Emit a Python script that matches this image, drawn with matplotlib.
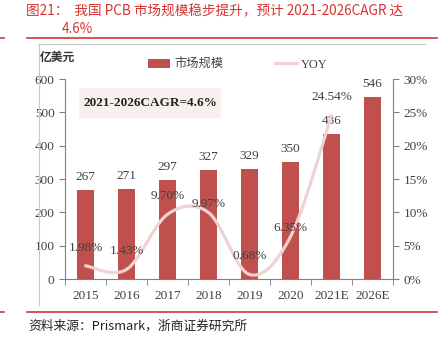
import matplotlib
matplotlib.use("Agg")
import matplotlib.pyplot as plt
import numpy as np
from matplotlib.lines import Line2D
from matplotlib.patches import Patch, Rectangle

categories = ["2015", "2016", "2017", "2018", "2019", "2020", "2021E", "2026E"]
market_size = [267, 271, 297, 327, 329, 350, 436, 546]
yoy = [1.98, 1.43, 9.70, 9.97, 0.68, 6.35, 24.54]
yoy_labels = ["1.98%", "1.43%", "9.70%", "9.97%", "0.68%", "6.35%", "24.54%"]
left_ticks = [0, 100, 200, 300, 400, 500, 600]
right_ticks = [0, 5, 10, 15, 20, 25, 30]

CJK = ["Noto Sans CJK SC", "DejaVu Sans"]
SERIF = ["Liberation Serif", "DejaVu Serif"]
BAR = "#C0504D"
LINE = "#F0D2D1"
TXT = "#404040"
AX = "#808080"
RED = "#D7332F"

W, H = 440, 337
fig = plt.figure(figsize=(W / 100, H / 100), dpi=100)

def fx(px):
    return px / W

def fy(py):
    return 1 - py / H

# header / footer decorations
fig.text(fx(26), fy(11), "图21：  我国 PCB 市场规模稳步提升，预计 2021-2026CAGR 达",
         family=CJK, fontsize=9.8, color=RED, va="center", ha="left")
fig.text(fx(62), fy(29), "4.6%", family=CJK, fontsize=9.8, color=RED, va="center", ha="left")
fig.add_artist(Line2D([fx(27), fx(437)], [fy(38), fy(38)], color=RED, lw=1.2))
fig.add_artist(Line2D([fx(0), fx(4)], [fy(38), fy(38)], color=RED, lw=1.2))
fig.add_artist(Line2D([fx(27), fx(437)], [fy(312), fy(312)], color=RED, lw=1.2))
fig.add_artist(Line2D([fx(0), fx(4)], [fy(312), fy(312)], color=RED, lw=1.2))
fig.add_artist(Line2D([fx(38), fx(425)], [fy(44), fy(44)], color="#C8C8C8", lw=0.8))
fig.add_artist(Line2D([fx(38.5), fx(38.5)], [fy(44), fy(305)], color="#C8C8C8", lw=0.8))
fig.text(fx(28), fy(326), "资料来源：Prismark，浙商证券研究所", family=CJK, fontsize=9.2,
         color="#222222", va="center", ha="left")
fig.text(fx(40), fy(57), "亿美元", family=CJK, fontsize=8.5, fontweight="bold",
         color="#333333", va="center", ha="left")

ax = fig.add_axes([fx(65), fy(279), fx(393) - fx(65), fy(79) - fy(279)])
ax2 = ax.twinx()
ax.set_zorder(1)
ax2.set_zorder(2)
ax2.patch.set_visible(False)

x = np.arange(len(categories))
bars = ax.bar(x, market_size, width=0.4, color=BAR, zorder=2)
for xi, v in zip(x, market_size):
    ax.annotate(str(v), (xi, v), xytext=(0, 5), textcoords="offset points",
                ha="center", va="bottom", family=SERIF, fontsize=9.5, color=TXT)

ax.set_xlim(-0.5, len(categories) - 0.5)
ax.set_ylim(0, 600)
ax.set_yticks(left_ticks)
ax.set_xticks(x)
ax.set_xticklabels(categories)
ax.set_xticks(np.arange(-0.5, len(categories), 1), minor=True)
ax.tick_params(axis="x", which="major", length=0, pad=8)
ax.tick_params(axis="x", which="minor", length=4, color=AX)
ax.tick_params(axis="y", length=4, color=AX)
for lab in ax.get_xticklabels() + ax.get_yticklabels():
    lab.set_family(SERIF)
    lab.set_fontsize(9.5)
    lab.set_color(TXT)
for s in ["top", "right"]:
    ax.spines[s].set_visible(False)
for s in ["left", "bottom"]:
    ax.spines[s].set_color(AX)

# smooth YOY line (Excel-style bezier smoothing through the data points)
xs = np.arange(len(yoy), dtype=float)
ys = np.array(yoy)
cx, cy = [], []
t = np.linspace(0, 1, 30)
for i in range(len(ys) - 1):
    p0 = np.array([xs[i], ys[i]])
    p3 = np.array([xs[i + 1], ys[i + 1]])
    pm = np.array([xs[max(i - 1, 0)], ys[max(i - 1, 0)]])
    pp = np.array([xs[min(i + 2, len(ys) - 1)], ys[min(i + 2, len(ys) - 1)]])
    c1 = p0 + (p3 - pm) / 6
    c2 = p3 - (pp - p0) / 6
    for tt in t:
        pt = (1 - tt) ** 3 * p0 + 3 * (1 - tt) ** 2 * tt * c1 + 3 * (1 - tt) * tt ** 2 * c2 + tt ** 3 * p3
        cx.append(pt[0]); cy.append(pt[1])
ax2.plot(cx, np.array(cy) / 100, color=LINE, lw=2.3, solid_capstyle="round", zorder=3)
offsets = [13, 13, 13, 6, 13, 6, 13]
for xi, v, lab, off in zip(xs, yoy, yoy_labels, offsets):
    ax2.annotate(lab, (xi, v / 100), xytext=(0, off), textcoords="offset points",
                 ha="center", va="center", family=SERIF, fontsize=9.5, color=TXT, zorder=5)

ax2.set_ylim(0, 0.30)
ax2.set_yticks([v / 100 for v in right_ticks])
ax2.set_yticklabels([f"{v}%" for v in right_ticks])
ax2.tick_params(axis="y", length=4, color=AX)
for lab in ax2.get_yticklabels():
    lab.set_family(SERIF)
    lab.set_fontsize(9.5)
    lab.set_color(TXT)
for s in ["top", "left", "bottom"]:
    ax2.spines[s].set_visible(False)
ax2.spines["right"].set_color(AX)

# CAGR box
fig.add_artist(Rectangle((fx(79), fy(118)), fx(221) - fx(79), fy(88) - fy(118),
                         facecolor="#F8F0EF", edgecolor="none", zorder=3))
fig.text(fx(150), fy(103), "2021-2026CAGR=4.6%", family=SERIF, fontsize=9.5,
         fontweight="bold", color="#222222", ha="center", va="center", zorder=4)

handles = [Patch(facecolor=BAR, edgecolor="none"), Line2D([0], [0], color=LINE, lw=2.3)]
leg = fig.legend(handles, ["市场规模", "YOY"], ncol=2, loc="center",
                 bbox_to_anchor=(fx(238), fy(64)), frameon=False, columnspacing=4.3,
                 handlelength=1.8, handletextpad=0.3, prop={"family": CJK, "size": 8.8})
for txt in leg.get_texts():
    txt.set_color(TXT)
leg.get_texts()[1].set_family(SERIF)

fig.savefig("out.png", dpi=100)
